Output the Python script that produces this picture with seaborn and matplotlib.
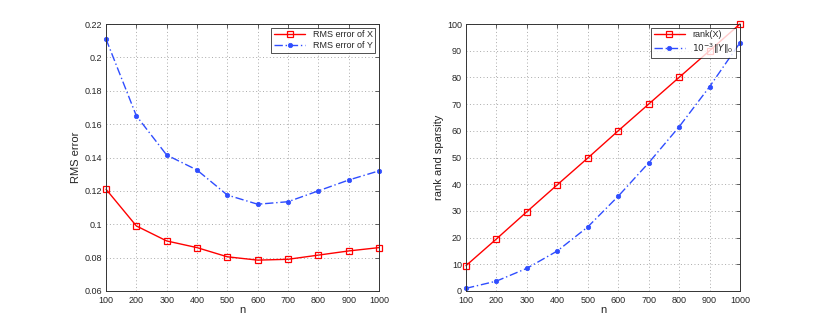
import numpy as np
import pandas as pd
import matplotlib
matplotlib.use("Agg")
import matplotlib.pyplot as plt
import seaborn as sns

# datos
n = [100, 200, 300, 400, 500, 600, 700, 800, 900, 1000]
rms_x = [0.121, 0.099, 0.090, 0.086, 0.0805, 0.0785, 0.079, 0.0815, 0.084, 0.086]
rms_y = [0.211, 0.165, 0.1415, 0.1325, 0.1175, 0.112, 0.1135, 0.120, 0.1265, 0.132]
rank_x = [9.5, 19.5, 29.7, 39.8, 49.8, 60, 70, 80, 90, 100]
sparsity_y = [1.0, 3.7, 8.5, 15.0, 24.0, 35.5, 48.0, 61.5, 76.5, 93.0]

sns.set_style("white")
plt.rcParams['font.family'] = ['Liberation Sans', 'DejaVu Sans']
plt.rcParams['font.size'] = 6.5
plt.rcParams['mathtext.fontset'] = 'dejavusans'

df = pd.DataFrame({'n': n, 'rms_x': rms_x, 'rms_y': rms_y,
                   'rank_x': rank_x, 'sparsity_y': sparsity_y})

fig = plt.figure(figsize=(8.17, 3.27), dpi=100)
ax1 = fig.add_axes([106 / 817, 36 / 327, 273 / 817, 267 / 327])
ax2 = fig.add_axes([466 / 817, 36 / 327, 274 / 817, 267 / 327])

BLUE = '#2f4dff'


def dibujar(ax, col_a, col_b, lab_a, lab_b):
    sns.lineplot(data=df, x='n', y=col_a, ax=ax, label=lab_a, color='red',
                 linewidth=1.0)
    sns.lineplot(data=df, x='n', y=col_b, ax=ax, label=lab_b, color=BLUE,
                 linewidth=1.0)
    la, lb = ax.lines[0], ax.lines[1]
    la.set_marker('s')
    la.set_markersize(4)
    la.set_markerfacecolor('none')
    la.set_markeredgecolor('red')
    la.set_markeredgewidth(0.9)
    lb.set_marker('o')
    lb.set_markersize(3.2)
    lb.set_markerfacecolor(BLUE)
    lb.set_markeredgecolor(BLUE)
    lb.set_markeredgewidth(0.5)
    lb.set_dashes([6, 2, 1, 2])
    for ln in (la, lb):
        ln.set_clip_on(False)


dibujar(ax1, 'rms_x', 'rms_y', 'RMS error of X', 'RMS error of Y')
dibujar(ax2, 'rank_x', 'sparsity_y', 'rank(X)', r'$10^{-3}\Vert Y\Vert_0$')

ax1.set_ylim(0.06, 0.22)
ax1.set_yticks(np.arange(0.06, 0.2201, 0.02))
ax1.set_yticklabels(['0.06', '0.08', '0.1', '0.12', '0.14', '0.16', '0.18', '0.2', '0.22'])
ax1.set_ylabel('RMS error', fontsize=8, labelpad=2)

ax2.set_ylim(0, 100)
ax2.set_yticks(range(0, 101, 10))
ax2.set_ylabel('rank and sparsity', fontsize=8, labelpad=2)

for ax in (ax1, ax2):
    ax.set_xlim(100, 1000)
    ax.set_xticks(n)
    ax.set_xlabel('n', fontsize=8, labelpad=0)
    ax.grid(True, linestyle=(0, (1, 2.5)), color='#aaaaaa', linewidth=0.7)
    ax.tick_params(direction='in', length=3, width=0.5, labelsize=6.5,
                   top=True, right=True)
    ax.tick_params(axis='x', pad=3.5)
    ax.tick_params(axis='y', pad=3)
    for s in ax.spines.values():
        s.set_linewidth(0.7)
        s.set_color('#333333')
    leg = ax.legend(loc='upper right', fontsize=6.5, frameon=True, fancybox=False,
                    edgecolor='black', borderpad=0.3, labelspacing=0.2,
                    handlelength=3.5, borderaxespad=0.4)
    leg.get_frame().set_linewidth(0.6)

fig.savefig('out.png', dpi=100)
